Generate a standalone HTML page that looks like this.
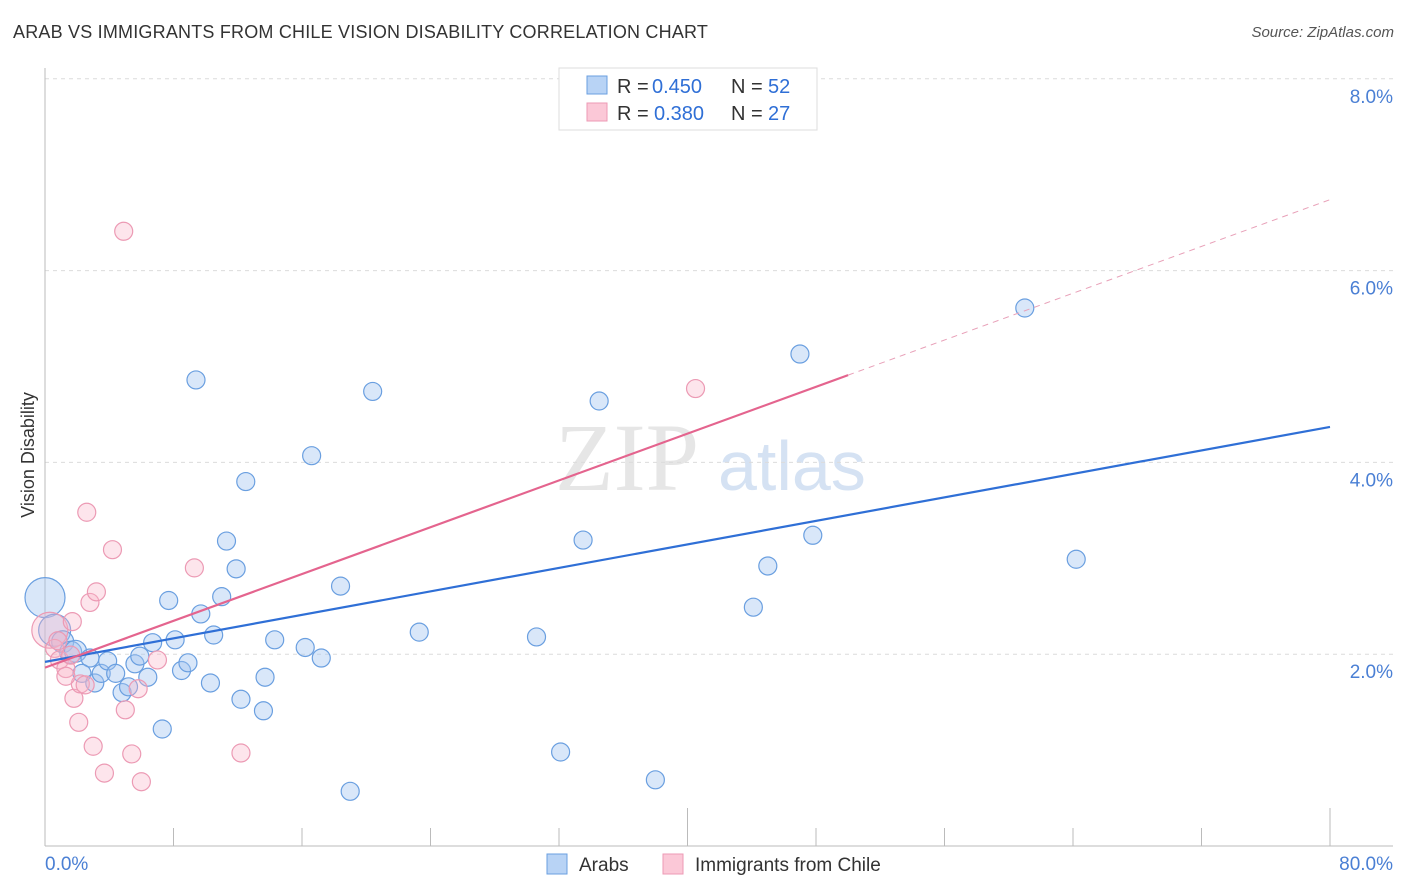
<!DOCTYPE html>
<html><head><meta charset="utf-8">
<style>
body{margin:0;background:#fff;font-family:"Liberation Sans",sans-serif;}
#wrap{position:relative;width:1406px;height:892px;overflow:hidden;}
.title{position:absolute;left:13px;top:22px;font-size:18px;color:#333;letter-spacing:0.2px;}
.source{position:absolute;right:12px;top:24px;font-size:15px;color:#555;font-style:italic;}
</style></head><body>
<div id="wrap">
<div class="title">ARAB VS IMMIGRANTS FROM CHILE VISION DISABILITY CORRELATION CHART</div>
<div class="source">Source: ZipAtlas.com</div>
<svg id="svg" width="1406" height="892" style="position:absolute;left:0;top:0"></svg>
</div>
<script>
const yTicks=[2,4,6,8];
const yTickLabels=["2.0%","4.0%","6.0%","8.0%"];
const xTickVals=[0,8,16,24,32,40,48,56,64,72,80];
const arabsX=[0,0.6,1.1,1.6,1.9,2.8,2.3,3.1,3.5,3.9,4.4,4.8,5.2,5.6,5.9,6.4,6.7,7.3,7.7,8.1,8.5,8.9,9.4,9.7,10.3,10.5,11,11.3,11.9,12.2,12.5,13.6,13.7,14.3,16.2,16.6,17.2,18.4,19,20.4,23.3,30.6,32.1,33.5,34.5,38,44.1,45,47,47.8,61,64.2];
const arabsY=[2.59,2.25,2.13,2.02,2.03,1.96,1.8,1.70,1.8,1.93,1.8,1.6,1.66,1.9,1.98,1.76,2.12,1.22,2.56,2.15,1.83,1.91,4.86,2.42,1.7,2.2,2.6,3.18,2.89,1.53,3.8,1.41,1.76,2.15,2.07,4.07,1.96,2.71,0.57,4.74,2.23,2.18,0.98,3.19,4.64,0.69,2.49,2.92,5.13,3.24,5.61,2.99];
const arabsR=[20,16,11,11,11,9,9,9,9,9,9,9,9,9,9,9,9,9,9,9,9,9,9,9,9,9,9,9,9,9,9,9,9,9,9,9,9,9,9,9,9,9,9,9,9,9,9,9,9,9,9,9];
const chileX=[0.3,0.6,0.9,1.3,1.6,1.7,2.1,1.8,2.2,2.6,2.8,3.0,3.2,3.7,4.2,5.0,4.9,5.4,5.8,6.0,7.0,9.3,12.2,40.5,2.5,1.3,0.8];
const chileY=[2.25,2.06,1.94,1.85,1.99,2.34,1.29,1.54,1.69,3.48,2.54,1.04,2.65,0.76,3.09,1.42,6.41,0.96,1.64,0.67,1.94,2.9,0.97,4.77,1.68,1.77,2.14];
const chileR=[18,9,9,9,9,9,9,9,9,9,9,9,9,9,9,9,9,9,9,9,9,9,9,9,9,9,9];
const blueLine=[1.92,4.37];
const pinkLine=[1.86,6.74];
const pinkSolidEnd=50;

const X0=45,X1=1330,Y0=846,PY=95.9;
const sx=v=>X0+(X1-X0)*v/80;
const sy=v=>Y0-v*PY;
const svg=document.getElementById('svg');
const NS='http://www.w3.org/2000/svg';
function mk(tag,attrs,parent){const e=document.createElementNS(NS,tag);for(const k in attrs)e.setAttribute(k,attrs[k]);(parent||svg).appendChild(e);return e;}

// watermark
let wm=mk('text',{x:555,y:490,'font-size':96,fill:'#e6e6e6','font-family':'Liberation Serif,serif'});wm.textContent='ZIP';

let wm2=mk('text',{x:718,y:490,'font-size':70,fill:'#d5e2f3','font-family':'Liberation Sans,sans-serif'});wm2.textContent='atlas';


// gridlines & y labels
yTicks.forEach((t,i)=>{
 let g=mk('line',{x1:X0,x2:1393,y1:sy(t),y2:sy(t),stroke:'#dcdcdc','stroke-dasharray':'4,4'});
 
 let l=mk('text',{x:1393,y:sy(t)+24,'text-anchor':'end','font-size':19,fill:'#4a7fd4'});l.textContent=yTickLabels[i];
 
});
// axes
let ya=mk('line',{x1:X0,x2:X0,y1:68,y2:846,stroke:'#bbb'});
let xa=mk('line',{x1:X0,x2:1393,y1:846,y2:846,stroke:'#bbb'});
xTickVals.forEach((t,i)=>{
 const tall=(i==5||i==10);
 let tk=mk('line',{x1:sx(t),x2:sx(t),y1:tall?808:828,y2:846,stroke:'#bbb'});
 
});
let xl0=mk('text',{x:45,y:870,'font-size':19,fill:'#4a7fd4'});xl0.textContent='0.0%';
let xl1=mk('text',{x:1393,y:870,'font-size':19,fill:'#4a7fd4','text-anchor':'end'});xl1.textContent='80.0%';
let yt=mk('text',{x:34,y:455,'font-size':18,fill:'#333','text-anchor':'middle',transform:'rotate(-90 34 455)'});yt.textContent='Vision Disability';


// points
arabsX.forEach((v,i)=>{
 let c=mk('circle',{cx:sx(v),cy:sy(arabsY[i]),r:arabsR[i],fill:'rgba(160,196,240,0.4)',stroke:'#6a9fe0','stroke-width':1.2});
 
});
chileX.forEach((v,i)=>{
 let c=mk('circle',{cx:sx(v),cy:sy(chileY[i]),r:chileR[i],fill:'rgba(248,180,200,0.35)',stroke:'#ec9ab4','stroke-width':1.2});
 
});
// trend lines
const pAt=x=>pinkLine[0]+(pinkLine[1]-pinkLine[0])*x/80;
let bl=mk('line',{x1:sx(0),y1:sy(blueLine[0]),x2:sx(80),y2:sy(blueLine[1]),stroke:'#2f6fd6','stroke-width':2.2});

let pl=mk('line',{x1:sx(0),y1:sy(pAt(0)),x2:sx(pinkSolidEnd),y2:sy(pAt(pinkSolidEnd)),stroke:'#e4648e','stroke-width':2.2});

let pd=mk('line',{x1:sx(pinkSolidEnd),y1:sy(pAt(pinkSolidEnd)),x2:sx(80),y2:sy(pAt(80)),stroke:'#e8a0b8','stroke-width':1,'stroke-dasharray':'6,5'});


// legend top
let lg=mk('g',{});
mk('rect',{x:559,y:68,width:258,height:62,fill:'#fff',stroke:'#ddd'},lg);
mk('rect',{x:587,y:76,width:20,height:18,fill:'#b8d3f5',stroke:'#6a9fe0'},lg);
mk('rect',{x:587,y:103,width:20,height:18,fill:'#fbc8d7',stroke:'#ec9ab4'},lg);
function lt(x,y,s,c){let t=mk('text',{x:x,y:y,'font-size':20,fill:c},lg);t.textContent=s;return t;}
lt(617,93,'R = ','#333');lt(652,93,'0.450','#2f6fd6');lt(731,93,'N = ','#333');lt(768,93,'52','#2f6fd6');
lt(617,120,'R = ','#333');lt(654,120,'0.380','#2f6fd6');lt(731,120,'N = ','#333');lt(768,120,'27','#2f6fd6');
// bottom legend
let bg=mk('g',{});
mk('rect',{x:547,y:854,width:20,height:20,fill:'#b8d3f5',stroke:'#6a9fe0'},bg);
let t1=mk('text',{x:579,y:871,'font-size':19,fill:'#333'},bg);t1.textContent='Arabs';
mk('rect',{x:663,y:854,width:20,height:20,fill:'#fbc8d7',stroke:'#ec9ab4'},bg);
let t2=mk('text',{x:695,y:871,'font-size':19,fill:'#333'},bg);t2.textContent='Immigrants from Chile';
</script>
</body></html>
